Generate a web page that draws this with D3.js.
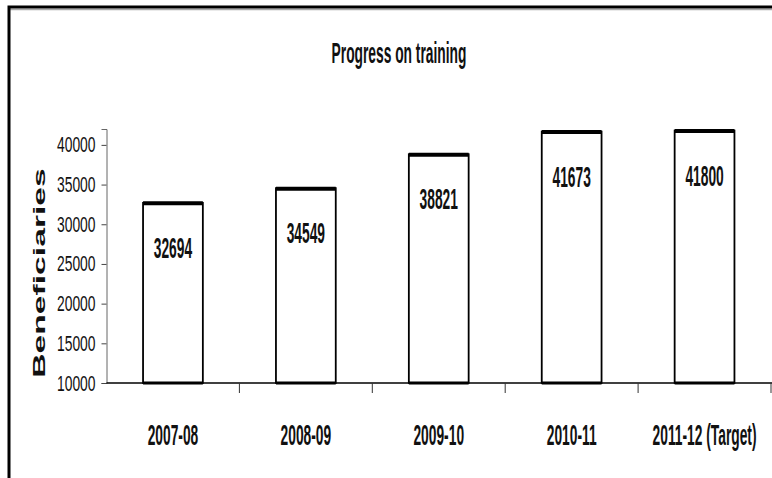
<!DOCTYPE html>
<style>
  body { margin: 0; background: #fff; }
  text { font-family: 'Liberation Sans', Arial, sans-serif; fill: #111; }
</style>
<svg width="772" height="478"></svg>
<script src="https://cdn.jsdelivr.net/npm/d3@7"></script>
<script>
  // data
  var years = ["2007-08", "2008-09", "2009-10", "2010-11", "2011-12 (Target)"];
  var trained = [32694, 34549, 38821, 41673, 41800];
  var yTicks = [10000, 15000, 20000, 25000, 30000, 35000, 40000];

  var svg = d3.select("svg");

  var left = 106.5, right = 771, bottom = 383;

  var x = d3.scaleBand().domain(years).range([left, right]).padding(0);
  var y = d3.scaleLinear().domain([10000, 42000]).range([bottom, 129]);

  // frame (top and left edge only)
  svg.append("line").attr("x1", 9).attr("x2", 772).attr("y1", 9.5).attr("y2", 9.5)
    .attr("stroke", "#aaa").attr("stroke-width", 1.5);
  svg.append("path").attr("d", "M9,478V7H772")
    .attr("fill", "none").attr("stroke", "#000").attr("stroke-width", 3);

  // title
  svg.append("text")
    .attr("transform", "translate(399,63) scale(0.46,1)")
    .attr("text-anchor", "middle")
    .attr("font-size", 30).attr("font-weight", "bold")
    .text("Progress on training");

  // y axis
  var yAxis = svg.append("g")
    .attr("transform", "translate(" + left + ",0)")
    .call(d3.axisLeft(y).tickValues(yTicks).tickSize(5).tickFormat(d3.format("d")));
  yAxis.select(".domain").attr("stroke", "#666");
  yAxis.selectAll(".tick line").attr("stroke", "#444");
  yAxis.selectAll(".tick text")
    .attr("x", null).attr("dy", null)
    .attr("transform", "translate(-11,7) scale(0.63,1)")
    .attr("font-size", 22).attr("font-family", "'Liberation Sans', Arial, sans-serif")
    .attr("fill", "#333");

  svg.append("text")
    .attr("transform", "translate(45,273) rotate(-90) scale(1.98,1)")
    .attr("text-anchor", "middle")
    .attr("font-size", 17).attr("font-weight", "bold")
    .text("Beneficiaries");

  // bars
  var bw = x.bandwidth() * 0.45;
  var bars = svg.append("g").selectAll("g")
    .data(years)
    .enter().append("g");

  bars.append("rect")
    .attr("x", function(d) { return x(d) + (x.bandwidth() - bw) / 2; })
    .attr("y", function(d, i) { return y(trained[i]); })
    .attr("width", bw)
    .attr("height", function(d, i) { return y(10000) - y(trained[i]); })
    .attr("fill", "#fff").attr("stroke", "#000").attr("stroke-width", 1.8);

  bars.append("line")
    .attr("x1", function(d) { return x(d) + (x.bandwidth() - bw) / 2; })
    .attr("x2", function(d) { return x(d) + (x.bandwidth() + bw) / 2; })
    .attr("y1", function(d, i) { return y(trained[i]) + 0.5; })
    .attr("y2", function(d, i) { return y(trained[i]) + 0.5; })
    .attr("stroke", "#000").attr("stroke-width", 4);

  bars.append("text")
    .attr("transform", function(d, i) {
      return "translate(" + (x(d) + x.bandwidth() / 2) + "," + (y(trained[i]) + 55) + ") scale(0.46,1)";
    })
    .attr("text-anchor", "middle")
    .attr("font-size", 30).attr("font-weight", "bold")
    .text(function(d, i) { return trained[i]; });

  // x axis
  var xAxis = svg.append("g");
  xAxis.append("line")
    .attr("x1", left).attr("x2", 772).attr("y1", bottom).attr("y2", bottom)
    .attr("stroke", "#000").attr("stroke-width", 1.5);
  bars.append("line")
    .attr("x1", function(d) { return x(d) + (x.bandwidth() - bw) / 2; })
    .attr("x2", function(d) { return x(d) + (x.bandwidth() + bw) / 2; })
    .attr("y1", bottom).attr("y2", bottom)
    .attr("stroke", "#000").attr("stroke-width", 3);

  xAxis.selectAll(".tk")
    .data(years.slice(1).map(function(d) { return x(d); }).concat([right]))
    .enter().append("line")
    .attr("x1", function(d) { return d; }).attr("x2", function(d) { return d; })
    .attr("y1", bottom).attr("y2", bottom + 10)
    .attr("stroke", "#333").attr("stroke-width", 1);

  xAxis.selectAll(".lbl")
    .data(years)
    .enter().append("text")
    .attr("transform", function(d) {
      return "translate(" + (x(d) + x.bandwidth() / 2) + ",445) scale(0.46,1)";
    })
    .attr("text-anchor", "middle")
    .attr("font-size", 30).attr("font-weight", "bold")
    .text(function(d) { return d; });
</script>
